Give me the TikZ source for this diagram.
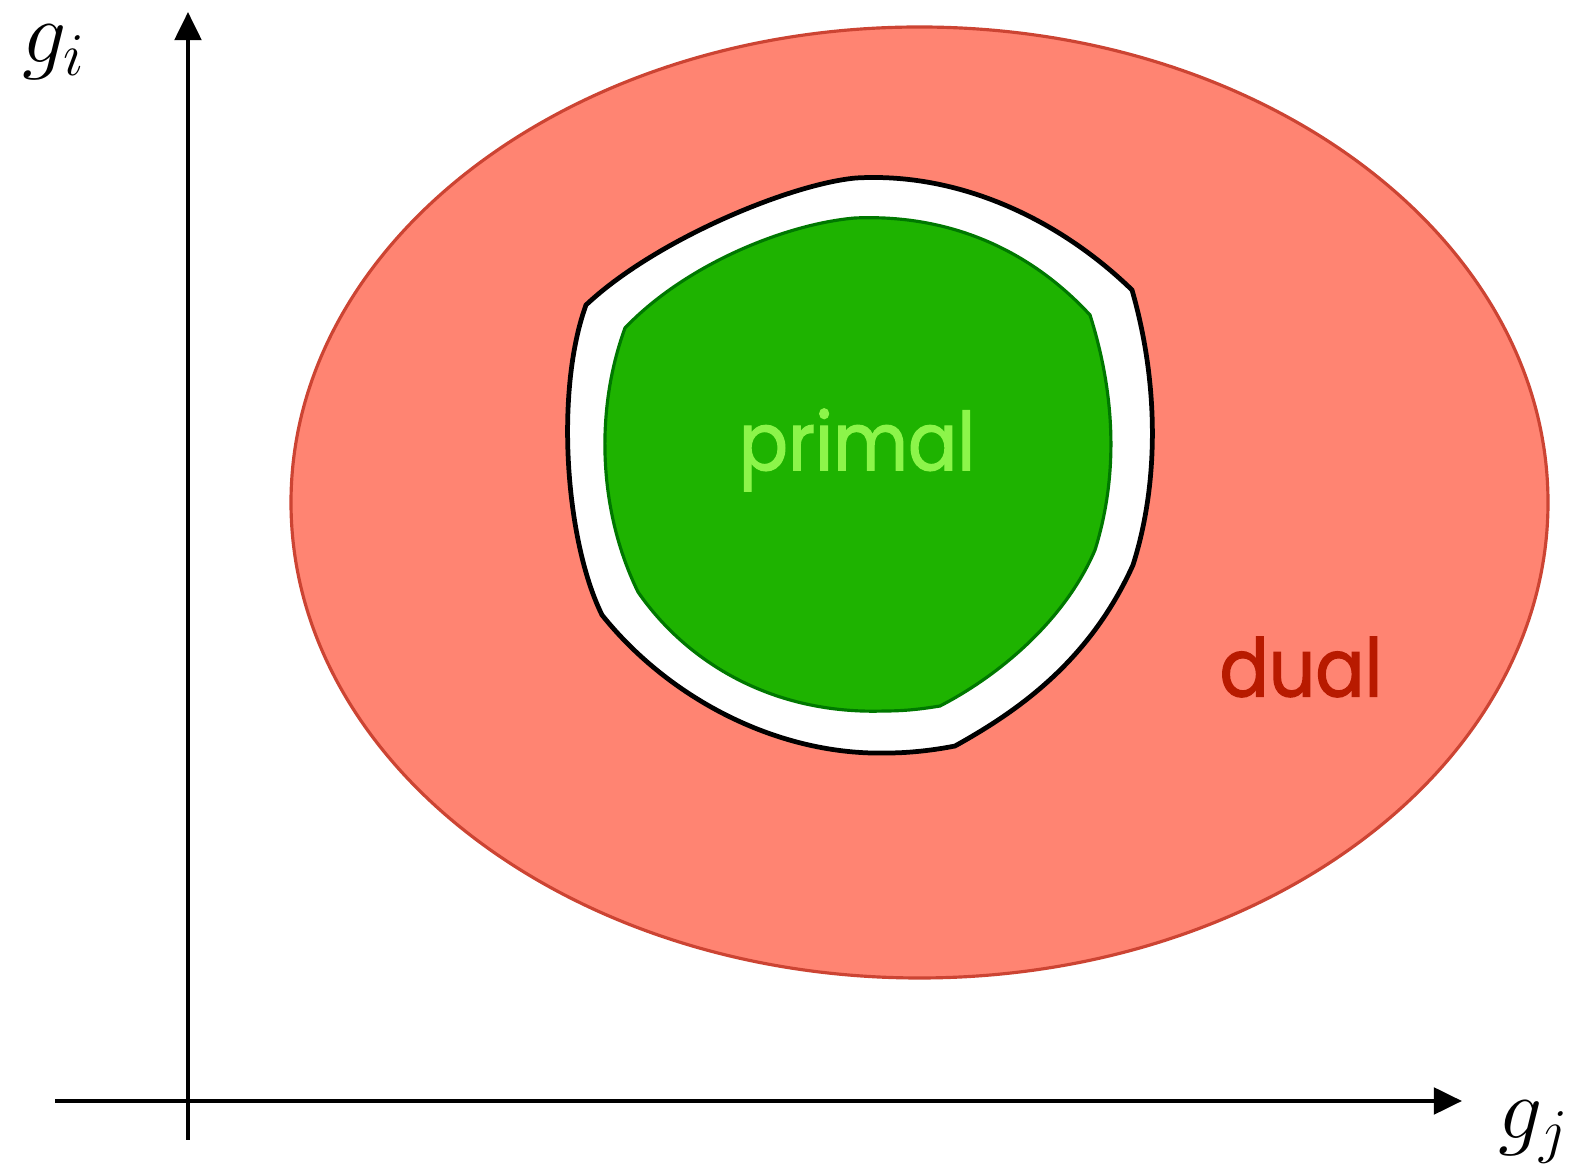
\documentclass[tikz,border=0pt]{standalone}
\usepackage{fontspec}
\newfontfamily\labelfont[FakeStretch=0.9,FakeBold=1.5]{Poppins}
\usetikzlibrary{arrows.meta}
\definecolor{dualfill}{HTML}{FF8472}
\definecolor{dualedge}{HTML}{CC4433}
\definecolor{dualtext}{HTML}{B81A00}
\definecolor{primfill}{HTML}{1EB300}
\definecolor{primedge}{HTML}{007800}
\definecolor{primtext}{HTML}{8CF54A}
\tikzset{
  axis/.style={line width=1.2pt,-{Triangle[length=8pt,width=7.5pt]}},
  region/.style={font=\labelfont\fontsize{23}{26}\selectfont},
  axislabel/.style={inner sep=0pt,font=\fontsize{24}{28}\selectfont}
}
\begin{document}
\begin{tikzpicture}[x=0.01cm,y=-0.01cm]
\useasboundingbox (0,0) rectangle (1572,1168);

% dual region
\draw[fill=dualfill,draw=dualedge,line width=0.9pt] (919.5,502.5) ellipse [x radius=628.5,y radius=475.5];

% outer boundary of the primal set
\draw[fill=white,draw=black,line width=1.35pt]
  (586,305) .. controls (655,240) and (790,184) .. (856,178)
  .. controls (960,172) and (1060,220) .. (1132,290)
  .. controls (1158,380) and (1160,480) .. (1133,565)
  .. controls (1090,660) and (1020,710) .. (955,746)
  .. controls (935,750) and (910,753) .. (888,753)
  .. controls (780,756) and (670,700) .. (602,615)
  .. controls (565,540) and (555,390) .. (586,305) -- cycle;

% primal region
\draw[fill=primfill,draw=primedge,line width=0.9pt]
  (625,328) .. controls (685,265) and (785,224) .. (855,218)
  .. controls (950,214) and (1030,250) .. (1090,315)
  .. controls (1117,400) and (1117,480) .. (1095,550)
  .. controls (1065,620) and (1000,675) .. (940,706)
  .. controls (922,709) and (905,711) .. (885,711)
  .. controls (770,715) and (685,660) .. (638,592)
  .. controls (598,510) and (595,410) .. (625,328) -- cycle;

\node[region,text=primtext] (primal) at (857,450) {primal};
\node[region,text=dualtext] (dual) at (1301,667) {dual};

% axes
\coordinate (yfoot) at (188,1140);
\coordinate (ytip) at (188,12);
\coordinate (xfoot) at (55,1101);
\coordinate (xtip) at (1462,1101);
\draw[axis] (yfoot) -- (ytip);
\draw[axis] (xfoot) -- (xtip);

\node[axislabel] (gi) at (54,52) {$g_i$};
\node[axislabel] (gj) at (1534,1132) {$g_j$};
\end{tikzpicture}
\end{document}
